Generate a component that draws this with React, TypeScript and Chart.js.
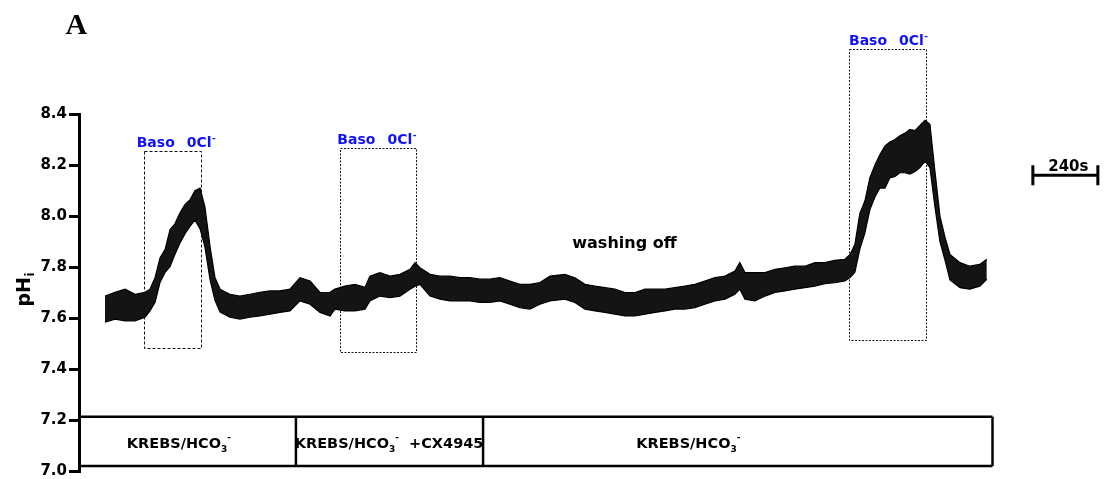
import { useEffect, useRef } from 'react';
import { Chart, registerables } from 'chart.js';

Chart.register(...registerables);

// time (s) of each envelope sample
const timeS = [
  96, 133, 170, 207, 244, 262, 281, 299, 318, 336, 354, 373, 391, 410, 428, 447, 465, 484, 502, 521,
  557, 594, 631, 668, 705, 742, 779, 816, 853, 890, 927,
  945, 982, 1019, 1056, 1074, 1111, 1148, 1185, 1222, 1241, 1259, 1296, 1333, 1370, 1407, 1444, 1480, 1517, 1554, 1591,
  1628, 1665, 1702, 1739,
  1794, 1831, 1868, 1905, 1942, 1979, 2016, 2053, 2090, 2127, 2164, 2200, 2237, 2274, 2311, 2348, 2385, 2422, 2440, 2459,
  2496, 2533, 2570, 2607, 2643, 2680, 2717, 2754, 2791, 2828,
  2847, 2865, 2883, 2902, 2920, 2939, 2957, 2976, 2994, 3013, 3031, 3050, 3068, 3087, 3105, 3124, 3142, 3160, 3179, 3197,
  3216, 3253, 3289, 3326, 3352,
];

// upper edge of the noisy pHi trace
const upperPH = [
  7.687, 7.702, 7.714, 7.694, 7.702, 7.714, 7.76, 7.836, 7.87, 7.947, 7.97, 8.013, 8.045, 8.064, 8.1, 8.11, 8.036, 7.88, 7.76, 7.714,
  7.694, 7.687, 7.694, 7.702, 7.707, 7.707, 7.714, 7.759, 7.746, 7.701, 7.702,
  7.714, 7.726, 7.733, 7.721, 7.765, 7.779, 7.765, 7.772, 7.792, 7.818, 7.798, 7.772, 7.765, 7.765, 7.759, 7.759, 7.753, 7.753, 7.759, 7.746,
  7.733, 7.733, 7.74, 7.765,
  7.772, 7.759, 7.733, 7.726, 7.72, 7.714, 7.701, 7.701, 7.714, 7.714, 7.714, 7.72, 7.726, 7.733, 7.746, 7.759, 7.765, 7.785, 7.818, 7.779,
  7.779, 7.779, 7.792, 7.798, 7.804, 7.804, 7.818, 7.818, 7.827, 7.831,
  7.85, 7.89, 8.01, 8.06, 8.15, 8.2, 8.24, 8.275, 8.29, 8.3, 8.315, 8.325, 8.34, 8.335, 8.355, 8.375, 8.36, 8.18, 8.0, 7.92,
  7.85, 7.818, 7.804, 7.811, 7.831,
];

// lower edge of the noisy pHi trace
const lowerPH = [
  7.585, 7.597, 7.59, 7.59, 7.604, 7.629, 7.663, 7.74, 7.78, 7.802, 7.85, 7.895, 7.93, 7.96, 7.985, 7.95, 7.88, 7.75, 7.67, 7.624,
  7.604, 7.597, 7.604, 7.609, 7.616, 7.623, 7.629, 7.668, 7.655, 7.623, 7.609,
  7.636, 7.629, 7.629, 7.636, 7.668, 7.687, 7.681, 7.687, 7.714, 7.726, 7.733, 7.687, 7.675, 7.668, 7.668, 7.668, 7.662, 7.662, 7.668, 7.655,
  7.642, 7.636, 7.655, 7.668,
  7.675, 7.662, 7.636, 7.629, 7.623, 7.616, 7.609, 7.609, 7.616, 7.623, 7.629, 7.636, 7.636, 7.642, 7.655, 7.668, 7.675, 7.694, 7.714, 7.675,
  7.668, 7.687, 7.701, 7.707, 7.714, 7.72, 7.726, 7.736, 7.74, 7.746,
  7.76, 7.78, 7.87, 7.935, 8.025, 8.075, 8.11, 8.11, 8.15, 8.155, 8.17, 8.17, 8.165, 8.175, 8.19, 8.215, 8.19, 8.04, 7.9, 7.83,
  7.75, 7.72, 7.714, 7.726, 7.753,
];

const yTicks = [7.0, 7.2, 7.4, 7.6, 7.8, 8.0, 8.2, 8.4];
const xMaxS = 3373;

// "Baso 0Cl-" application periods
const basoStart = [241, 963, 2843];
const basoEnd = [452, 1242, 3127];
const basoTop = [8.256, 8.266, 8.654];
const basoBottom = [7.483, 7.469, 7.516];
const basoLabelX = [213, 954, 2843];

// perfusion medium bar
const mediumBounds = [0, 801, 1492, 3373];
const mediumSuffix = ['', '  +CX4945', ''];
const mediumLabelX = [369, 1145, 2250];
const mediumTopPH = 7.214;
const mediumBottomPH = 7.022;
const mediumLabelPH = 7.091;

const washText = 'washing off';
const washX = 2014;
const washPH = 7.874;

const scaleBarStart = 3522;
const scaleBarLen = 240;
const scaleBarPH = 8.16;

const SANS = '"DejaVu Sans"';

function drawKrebs(ctx: CanvasRenderingContext2D, cx: number, base: number, suffix: string) {
  const size = 14.5;
  const big = `bold ${size}px ${SANS}`;
  const small = `bold ${size * 0.62}px ${SANS}`;
  ctx.font = big;
  const w1 = ctx.measureText('KREBS/HCO').width;
  const w4 = suffix ? ctx.measureText(suffix).width : 0;
  ctx.font = small;
  const w2 = ctx.measureText('3').width;
  const w3 = ctx.measureText('-').width;
  const total = w1 + w2 + w3 + w4;
  let x = cx - total / 2;
  ctx.textAlign = 'left';
  ctx.textBaseline = 'alphabetic';
  ctx.font = big;
  ctx.fillText('KREBS/HCO', x, base);
  x += w1;
  ctx.font = small;
  ctx.fillText('3', x, base + 3.5);
  x += w2;
  ctx.fillText('-', x, base - 8);
  x += w3;
  if (suffix) {
    ctx.font = big;
    ctx.fillText(suffix, x, base);
  }
}

const annotationPlugin = {
  id: 'figureAnnotations',
  afterDraw(chart: any) {
    const ctx: CanvasRenderingContext2D = chart.ctx;
    const xs = chart.scales.x;
    const ys = chart.scales.y;
    const area = chart.chartArea;
    ctx.save();

    // dashed application boxes + labels
    for (let i = 0; i < basoStart.length; i++) {
      const x0 = xs.getPixelForValue(basoStart[i]);
      const x1 = xs.getPixelForValue(basoEnd[i]);
      const y0 = ys.getPixelForValue(basoTop[i]);
      const y1 = ys.getPixelForValue(basoBottom[i]);
      ctx.setLineDash(i === 0 ? [3, 2] : [2, 1.5]);
      ctx.strokeStyle = '#111';
      ctx.lineWidth = 1;
      ctx.strokeRect(Math.round(x0) + 0.5, Math.round(y0) + 0.5, Math.round(x1 - x0), Math.round(y1 - y0));
      ctx.setLineDash([]);

      const lx = xs.getPixelForValue(basoLabelX[i]);
      const ly = y0 - 4;
      ctx.fillStyle = '#1010ff';
      ctx.textAlign = 'left';
      ctx.textBaseline = 'alphabetic';
      ctx.font = `bold 14px ${SANS}`;
      ctx.fillText('Baso', lx, ly);
      const w = ctx.measureText('Baso').width;
      ctx.fillText('0Cl', lx + w + 12, ly);
      const w2 = ctx.measureText('0Cl').width;
      ctx.font = `bold 9px ${SANS}`;
      ctx.fillText('-', lx + w + 12 + w2 + 0.5, ly - 6);
    }

    // medium bar
    const top = ys.getPixelForValue(mediumTopPH);
    const bot = ys.getPixelForValue(mediumBottomPH);
    ctx.strokeStyle = '#000';
    ctx.lineWidth = 2.5;
    ctx.beginPath();
    const left = xs.getPixelForValue(mediumBounds[0]);
    const right = xs.getPixelForValue(mediumBounds[mediumBounds.length - 1]);
    ctx.moveTo(left, top);
    ctx.lineTo(right, top);
    ctx.moveTo(left, bot);
    ctx.lineTo(right, bot);
    for (let i = 1; i < mediumBounds.length; i++) {
      const bx = xs.getPixelForValue(mediumBounds[i]);
      ctx.moveTo(bx, top);
      ctx.lineTo(bx, bot);
    }
    ctx.stroke();
    ctx.fillStyle = '#000';
    for (let i = 0; i < mediumLabelX.length; i++) {
      drawKrebs(ctx, xs.getPixelForValue(mediumLabelX[i]), ys.getPixelForValue(mediumLabelPH), mediumSuffix[i]);
    }

    // washing off
    ctx.font = `bold 16px ${SANS}`;
    ctx.textAlign = 'center';
    ctx.textBaseline = 'alphabetic';
    ctx.fillText(washText, xs.getPixelForValue(washX), ys.getPixelForValue(washPH));

    // time scale bar
    const sx0 = xs.getPixelForValue(scaleBarStart);
    const sx1 = xs.getPixelForValue(scaleBarStart + scaleBarLen);
    const sy = ys.getPixelForValue(scaleBarPH);
    ctx.lineWidth = 3;
    ctx.beginPath();
    ctx.moveTo(sx0, sy);
    ctx.lineTo(sx1, sy);
    ctx.moveTo(sx0, sy - 10);
    ctx.lineTo(sx0, sy + 10);
    ctx.moveTo(sx1, sy - 10);
    ctx.lineTo(sx1, sy + 10);
    ctx.stroke();
    ctx.font = `bold 15px ${SANS}`;
    ctx.textAlign = 'center';
    ctx.fillText(`${scaleBarLen}s`, (sx0 + sx1) / 2 + 3, sy - 4);

    // panel letter
    ctx.font = 'bold 30px "Liberation Serif"';
    ctx.textAlign = 'left';
    ctx.fillText('A', area.left - 13.5, 34);

    // y axis title pH_i
    ctx.translate(29.5, 306.5);
    ctx.rotate(-Math.PI / 2);
    ctx.font = `bold 19px ${SANS}`;
    ctx.textAlign = 'left';
    ctx.fillText('pH', 0, 0);
    const pw = ctx.measureText('pH').width;
    ctx.font = `bold 12px ${SANS}`;
    ctx.fillText('i', pw + 0.5, 4);

    ctx.restore();
  },
};

export default function App() {
  const canvasRef = useRef<HTMLCanvasElement | null>(null);

  useEffect(() => {
    if (!canvasRef.current) return;
    const chart = new Chart(canvasRef.current, {
      type: 'line',
      data: {
        datasets: [
          {
            label: 'upper',
            data: timeS.map((t, i) => ({ x: t, y: upperPH[i] })),
            borderColor: '#000',
            borderWidth: 1.2,
            pointRadius: 0,
            fill: false,
            tension: 0,
          },
          {
            label: 'lower',
            data: timeS.map((t, i) => ({ x: t, y: lowerPH[i] })),
            borderColor: '#000',
            borderWidth: 1.2,
            pointRadius: 0,
            fill: '-1',
            backgroundColor: 'rgba(0,0,0,0.92)',
            tension: 0,
          },
        ],
      },
      options: {
        animation: false,
        responsive: false,
        layout: { padding: { left: 0, top: 114, right: 113.5, bottom: 7.5 } },
        plugins: { legend: { display: false }, tooltip: { enabled: false } },
        scales: {
          x: { type: 'linear', min: 0, max: xMaxS, display: false },
          y: {
            type: 'linear',
            min: 7.0,
            max: 8.4,
            afterBuildTicks: (s: any) => {
              s.ticks = yTicks.map((v) => ({ value: v }));
            },
            afterFit: (s: any) => {
              s.width = 79;
            },
            ticks: {
              color: '#000',
              padding: 2,
              font: { family: 'DejaVu Sans', weight: 'bold', size: 15, lineHeight: 0.5 },
              callback: (v: any) => Number(v).toFixed(1),
            },
            grid: {
              drawOnChartArea: false,
              drawTicks: true,
              tickLength: 10,
              tickWidth: 3,
              tickColor: '#000',
              color: '#000',
              lineWidth: 3,
            },
            border: { display: true, color: '#000', width: 3 },
          },
        },
      },
      plugins: [annotationPlugin],
    } as any);
    return () => chart.destroy();
  }, []);

  return (
    <div style={{ position: 'absolute', left: 0, top: 0, width: 1106, height: 479 }}>
      <canvas ref={canvasRef} width={1106} height={479} style={{ display: 'block' }} />
    </div>
  );
}
